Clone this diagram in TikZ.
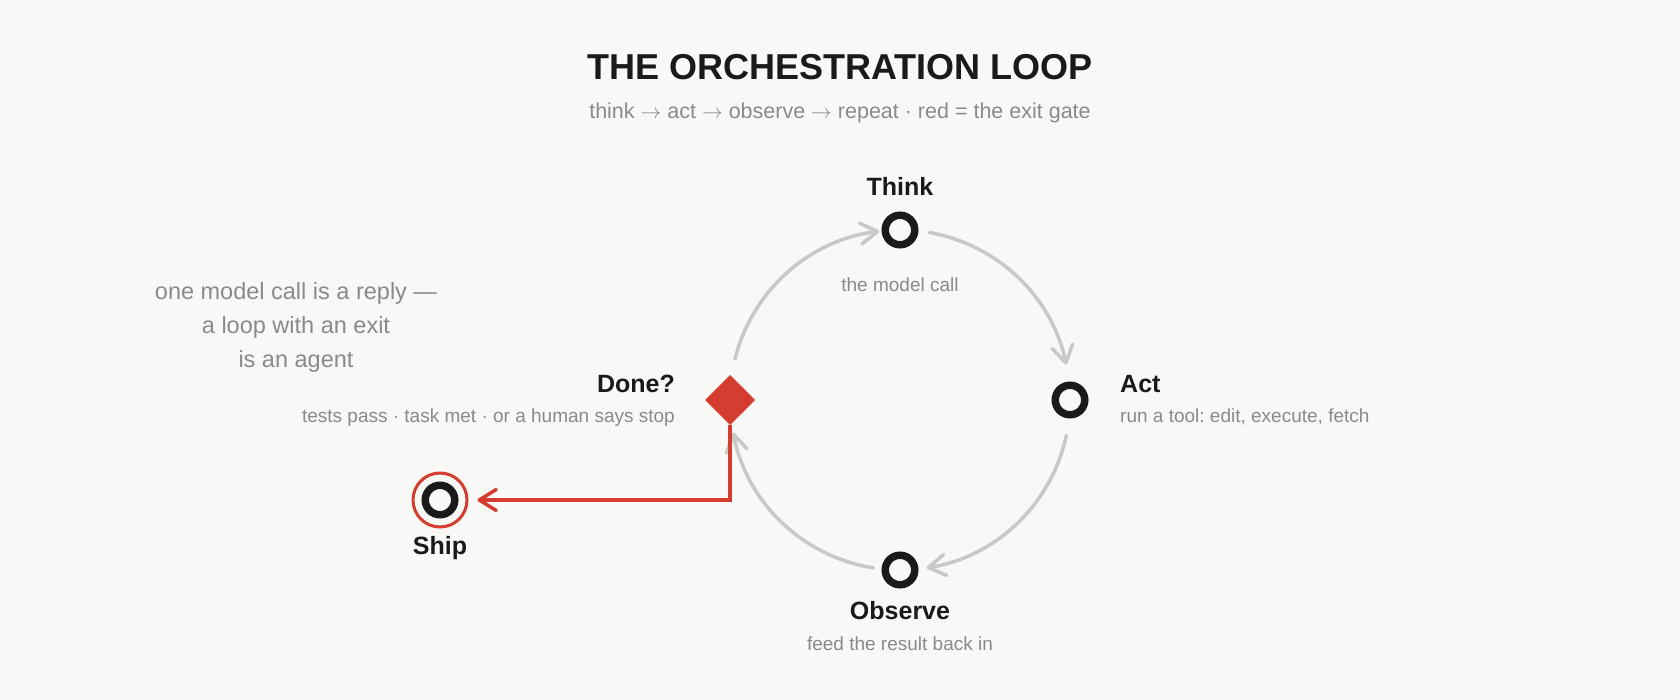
\documentclass[tikz,border=0pt]{standalone}
\usepackage{fontspec}
\setmainfont{Liberation Sans}
\usetikzlibrary{arrows.meta,shapes.geometric,calc}
\definecolor{bg}{HTML}{F8F8F6}
\definecolor{ink}{HTML}{1A1A1A}
\definecolor{muted}{HTML}{8A8A8A}
\definecolor{arcgray}{HTML}{C8C8C6}
\definecolor{gate}{HTML}{D43D2F}
\frenchspacing
\begin{document}
\begin{tikzpicture}[x=1pt,y=-1pt,
  stage/.style={circle, draw=ink, line width=7.5pt, fill=bg, minimum size=29.5pt, inner sep=0pt},
  lbl/.style={text=ink, font=\fontsize{25}{30}\selectfont\bfseries, inner sep=0pt},
  sub/.style={text=muted, font=\fontsize{19}{23}\selectfont, inner sep=0pt},
  note/.style={text=muted, font=\fontsize{23.5}{28}\selectfont, inner sep=0pt, anchor=base},
  flow/.style={draw=arcgray, line width=3.5pt, line cap=round, -{Straight Barb[length=17pt,width=21pt,round]}},
  exitpath/.style={draw=gate, line width=3.5pt, -{Straight Barb[length=17pt,width=21pt,round]}},
]
\fill[bg] (0,0) rectangle (1680,700);
\useasboundingbox (0,0) rectangle (1680,700);

% title
\node[text=ink, font=\fontsize{36}{43}\selectfont\bfseries, inner sep=0pt, anchor=base] (title) at (840,80) {THE ORCHESTRATION LOOP};
\node[text=muted, font=\fontsize{21.5}{26}\selectfont, inner sep=0pt, anchor=base] (subtitle) at (840,119) {think $\rightarrow$ act $\rightarrow$ observe $\rightarrow$ repeat · red = the exit gate};

% loop centre and arc end points
\coordinate (c) at (900,400);
\coordinate (a1s) at ($(c)+(-166:170)$);
\coordinate (a2s) at ($(c)+(-80:170)$);
\coordinate (a3s) at ($(c)+(12:170)$);
\coordinate (a4s) at ($(c)+(99:170)$);

% arcs
\draw[flow] (a1s) arc[start angle=-166, end angle=-97, radius=170];
\draw[flow] (a2s) arc[start angle=-80, end angle=-12, radius=170];
\draw[flow] (a3s) arc[start angle=12, end angle=81, radius=170];
\draw[flow] (a4s) arc[start angle=99, end angle=169, radius=170];

% stages
\node[stage] (think) at (900,230) {};
\node[stage] (act) at (1070,400) {};
\node[stage] (observe) at (900,570) {};
\node[diamond, fill=gate, minimum width=50pt, minimum height=50pt, inner sep=0pt, outer sep=0pt] (done) at (730,400) {};
\node[circle, draw=gate, line width=3pt, minimum size=54pt, inner sep=0pt] (shipring) at (440,500) {};
\node[stage] (ship) at (440,500) {};

% exit connector
\draw[exitpath, shorten >=9pt] (done.south) -- (done.south |- ship) -- (shipring.east);

% labels
\node[lbl, anchor=base] (thinkl) at (900,196) {Think};
\node[sub, anchor=base] (thinks) at (900,292) {the model call};
\node[lbl, anchor=base west] (actl) at (1120,392) {Act};
\node[sub, anchor=base west] (acts) at (1120,422) {run a tool: edit, execute, fetch};
\node[lbl, anchor=base] (observel) at (900,619) {Observe};
\node[sub, anchor=base] (observes) at (900,650) {feed the result back in};
\node[lbl, anchor=base east] (donel) at (675,392) {Done?};
\node[sub, anchor=base east] (dones) at (675,422) {tests pass · task met · or a human says stop};
\node[lbl, anchor=base] (shipl) at (440,554) {Ship};

% note
\node[note] (note1) at (296,300) {one model call is a reply —};
\node[note] (note2) at (296,333.5) {a loop with an exit};
\node[note] (note3) at (296,367) {is an agent};
\end{tikzpicture}
\end{document}
